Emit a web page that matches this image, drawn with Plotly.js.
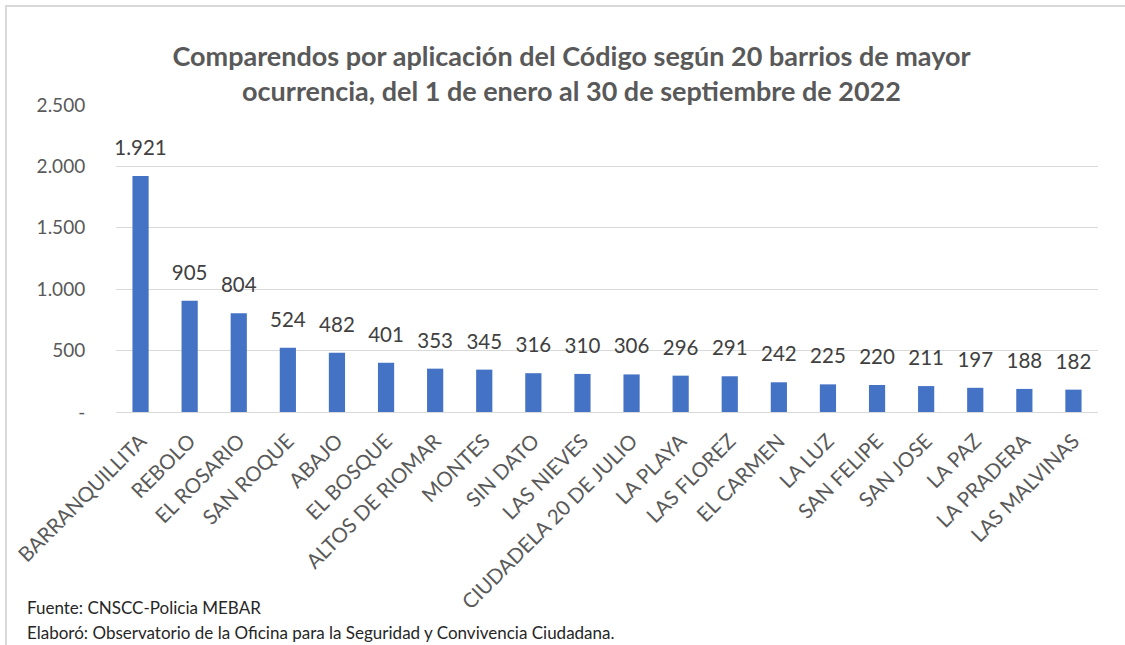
<!DOCTYPE html>
<html>
<head>
<meta charset="utf-8">
<script src="https://cdn.plot.ly/plotly-3.0.1.min.js"></script>
<style>
  body { margin: 0; background: #fff; }
  #chart { width: 1125px; height: 645px; }
  #frame { position: absolute; left: 5px; top: 5px; width: 1125px; height: 645px;
           border-left: 2px solid #d9d9d9; border-top: 2px solid #d9d9d9; pointer-events: none; }
</style>
</head>
<body>
<div id="chart"></div>
<div id="frame"></div>
<script>
const categories = ["BARRANQUILLITA", "REBOLO", "EL ROSARIO", "SAN ROQUE", "ABAJO", "EL BOSQUE",
  "ALTOS DE RIOMAR", "MONTES", "SIN DATO", "LAS NIEVES", "CIUDADELA 20 DE JULIO", "LA PLAYA",
  "LAS FLOREZ", "EL CARMEN", "LA LUZ", "SAN FELIPE", "SAN JOSE", "LA PAZ", "LA PRADERA", "LAS MALVINAS"];
const values = [1921, 905, 804, 524, 482, 401, 353, 345, 316, 310, 306, 296, 291, 242, 225, 220, 211, 197, 188, 182];
const yTickVals = [0, 500, 1000, 1500, 2000, 2500];
const yTickText = ["-", "500", "1.000", "1.500", "2.000", "2.500"];
const titleText = "Comparendos por aplicación del Código según 20 barrios de mayor<br>ocurrencia, del 1 de enero al 30 de septiembre de 2022";
const footer1 = "Fuente: CNSCC-Policia MEBAR";
const footer2 = "Elaboró: Observatorio de la Oficina para la Seguridad y Convivencia Ciudadana.";

const font = "Lato, 'Open Sans', sans-serif";

const bars = {
  type: "bar",
  x: categories,
  y: values,
  marker: { color: "#4472c4" },
  hoverinfo: "x+y"
};

const labels = {
  type: "scatter",
  mode: "markers+text",
  x: categories,
  y: values,
  marker: { size: 24, opacity: 0 },
  texttemplate: "%{y:,}",
  textposition: "top center",
  textfont: { family: font, size: 20.5, color: "#404040" },
  cliponaxis: false,
  hoverinfo: "skip"
};

const layout = {
  width: 1125,
  height: 645,
  margin: { l: 116, r: 27, t: 105, b: 233 },
  paper_bgcolor: "#ffffff",
  plot_bgcolor: "#ffffff",
  separators: ",.",
  bargap: 0.67,
  showlegend: false,
  font: { family: font, color: "#595959" },
  title: {
    text: titleText,
    font: { family: font, size: 27, color: "#595959", weight: "bold" },
    x: 0.508, xanchor: "center",
    y: 1 - 66 / 645, yanchor: "middle", yref: "container"
  },
  xaxis: {
    type: "category",
    range: [-0.5, categories.length - 0.5],
    autorange: false,
    tickangle: -45,
    tickfont: { family: font, size: 20.5, color: "#595959" },
    ticks: "outside", ticklen: 8, tickcolor: "rgba(0,0,0,0)",
    showline: false, showgrid: false, zeroline: false,
    automargin: false
  },
  yaxis: {
    range: [0, 2500],
    autorange: false,
    tickvals: yTickVals,
    ticktext: yTickText,
    tickfont: { family: font, size: 19, color: "#595959" },
    ticks: "outside", ticklen: 26, tickcolor: "rgba(0,0,0,0)",
    showgrid: true, gridcolor: "#d9d9d9", gridwidth: 1,
    zeroline: true, zerolinecolor: "#d9d9d9", zerolinewidth: 1,
    showline: false,
    automargin: false
  },
  annotations: [
    { text: footer1, xref: "paper", yref: "paper", x: (25 - 116) / 982, y: (412 - 607) / 307,
      xanchor: "left", yanchor: "middle", showarrow: false,
      font: { family: font, size: 17, color: "#262626" } },
    { text: footer2, xref: "paper", yref: "paper", x: (25 - 116) / 982, y: (412 - 632) / 307,
      xanchor: "left", yanchor: "middle", showarrow: false,
      font: { family: font, size: 17, color: "#262626" } }
  ]
};

Plotly.newPlot("chart", [bars, labels], layout, { displayModeBar: false, staticPlot: true });
</script>
</body>
</html>
